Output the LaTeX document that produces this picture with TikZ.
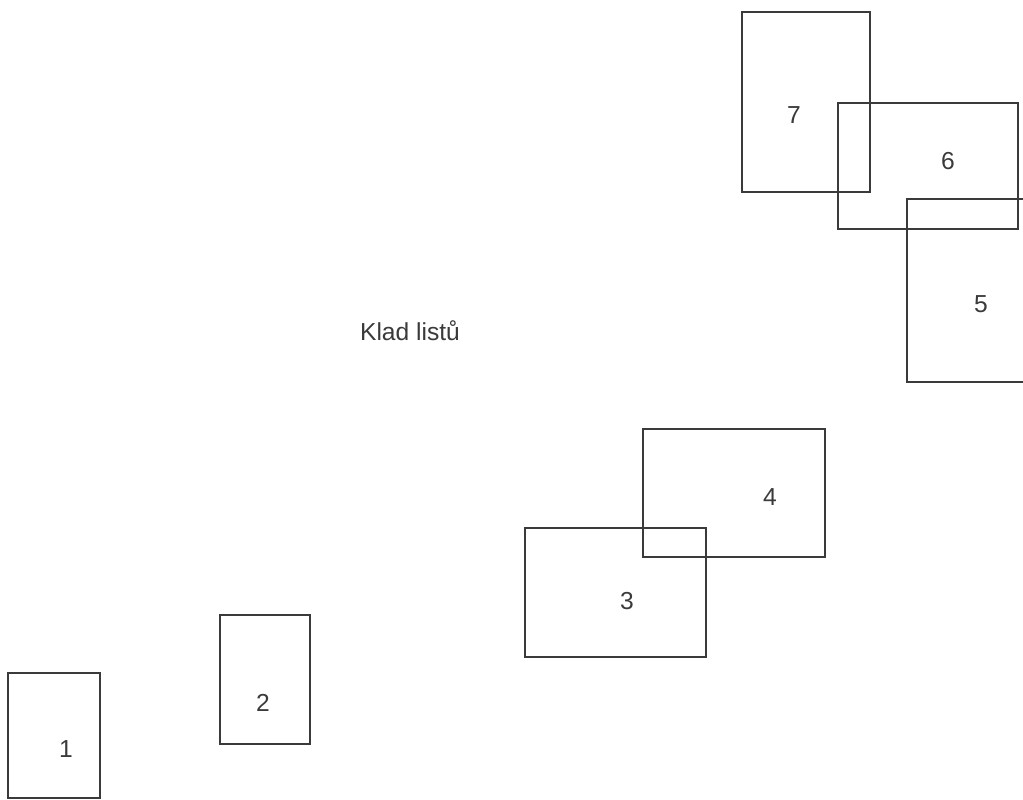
\documentclass[tikz,border=0pt]{standalone}
\usepackage{fontspec}
\setmainfont{Liberation Sans}
\usetikzlibrary{positioning}
\definecolor{Ink}{HTML}{3A3A3A}
\tikzset{
  sheet/.style={draw=Ink, line width=0.6pt},
  sheetno/.style={text=Ink, font=\fontsize{14}{16}\selectfont, inner sep=0pt},
  caption/.style={text=Ink, font=\fontsize{14}{16}\selectfont, inner sep=0pt}
}

\begin{document}
\begin{tikzpicture}[x=0.02cm, y=-0.02cm]
        \useasboundingbox (0,0) rectangle (1023,799);
        \clip (0,0) rectangle (1023,799);
        % sheets
        \draw[sheet] (8,673) rectangle (100,798);
        \draw[sheet] (220,615) rectangle (310,744);
        \draw[sheet] (525,528) rectangle (706,657);
        \draw[sheet] (643,429) rectangle (825,557);
        \draw[sheet] (907,199) rectangle (1030,382);
        \draw[sheet] (838,103) rectangle (1018,229);
        \draw[sheet] (742,12) rectangle (870,192);
        % sheet numbers
        \node[sheetno] (n1) at (66,749) {1};
        \node[sheetno] (n2) at (263,703) {2};
        \node[sheetno] (n3) at (627,601) {3};
        \node[sheetno] (n4) at (770,497) {4};
        \node[sheetno] (n5) at (981,304) {5};
        \node[sheetno] (n6) at (948,161) {6};
        \node[sheetno] (n7) at (794,115) {7};
        \node[caption] (klad) at (410,331) {Klad listů};
      \end{tikzpicture}
\end{document}
